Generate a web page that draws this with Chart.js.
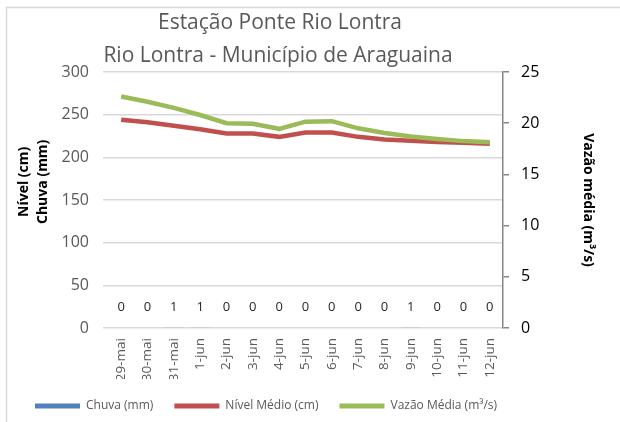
<!DOCTYPE html>
<html>
<head>
<meta charset="utf-8">
<script src="https://cdn.jsdelivr.net/npm/chart.js@4.4.0/dist/chart.umd.min.js"></script>
<style>
  html, body { margin: 0; padding: 0; background: #fff; }
  #wrap { width: 620px; height: 422px; }
</style>
</head>
<body>
<div id="wrap"><canvas id="chart" width="620" height="422"></canvas></div>
<script>
// data
var days = ["29-mai", "30-mai", "31-mai", "1-jun", "2-jun", "3-jun", "4-jun", "5-jun",
            "6-jun", "7-jun", "8-jun", "9-jun", "10-jun", "11-jun", "12-jun"];
var chuva = [0, 0, 1, 1, 0, 0, 0, 0, 0, 0, 0, 1, 0, 0, 0];
var nivel = [244, 241, 237, 233, 228, 228, 224, 229, 229, 224, 221, 219.5, 218, 217, 216];
var vazao = [22.6, 22.1, 21.5, 20.8, 20.0, 19.95, 19.45, 20.15, 20.2, 19.5, 19.05, 18.7, 18.45, 18.25, 18.15];
var titleLines = ["Estação Ponte Rio Lontra", "Rio Lontra - Município de Araguaina"];

var grey = "#595959";
var font = "'Open Sans', 'Liberation Sans', sans-serif";

// title + outer frame
var frame = {
    id: "frame",
    beforeDraw: function(chart) {
        var c = chart.ctx;
        c.save();
        c.fillStyle = "#fff";
        c.fillRect(0, 0, chart.width, chart.height);
        c.strokeStyle = "#d9d9d9";
        c.lineWidth = 1.5;
        c.beginPath();
        c.moveTo(6.5, chart.height);
        c.lineTo(6.5, 7.5);
        c.lineTo(chart.width, 7.5);
        c.stroke();
        c.restore();
    },
    afterDraw: function(chart) {
        var c = chart.ctx;
        c.save();
        c.fillStyle = grey;
        c.font = "21px " + font;
        c.textAlign = "center";
        c.textBaseline = "middle";
        c.fillText(titleLines[0], 280, 23);
        c.fillText(titleLines[1], 278, 56);
        c.restore();
    }
};

// the little 0/1 labels above the rain bars
var barLabels = {
    id: "barLabels",
    afterDatasetsDraw: function(chart) {
        var c = chart.ctx;
        var meta = chart.getDatasetMeta(0);
        c.save();
        c.fillStyle = "#262626";
        c.font = "13px " + font;
        c.textAlign = "center";
        c.textBaseline = "middle";
        meta.data.forEach(function(bar, i) {
            c.fillText(String(chuva[i]), bar.x, chart.chartArea.bottom - 21);
        });
        c.restore();
    }
};

var ctx = document.getElementById("chart").getContext("2d");

var myChart = new Chart(ctx, {
    type: "bar",
    data: {
        labels: days,
        datasets: [{
            label: "Chuva (mm)",
            data: chuva,
            backgroundColor: "#4f81bd",
            yAxisID: "y",
            order: 2
        }, {
            type: "line",
            label: "Nível Médio (cm)",
            data: nivel,
            borderColor: "#c0504d",
            backgroundColor: "#c0504d",
            borderWidth: 4.5,
            pointRadius: 0,
            tension: 0,
            yAxisID: "y",
            order: 1
        }, {
            type: "line",
            label: "Vazão Média (m³/s)",
            data: vazao,
            borderColor: "#9bbb59",
            backgroundColor: "#9bbb59",
            borderWidth: 4.5,
            pointRadius: 0,
            tension: 0,
            yAxisID: "y1",
            order: 0
        }]
    },
    options: {
        responsive: false,
        animation: false,
        layout: { padding: { top: 72, bottom: 0, left: 14, right: 0 } },
        plugins: {
            title: { display: false },
            tooltip: { enabled: false },
            legend: {
                position: "bottom",
                align: "start",
                labels: {
                    color: grey,
                    font: { family: font, size: 12 },
                    boxWidth: 45,
                    boxHeight: 5,
                    padding: 21,
                    generateLabels: function(chart) {
                        return chart.data.datasets.map(function(ds, i) {
                            return {
                                text: ds.label,
                                fillStyle: ds.backgroundColor,
                                strokeStyle: ds.backgroundColor,
                                lineWidth: 0,
                                fontColor: grey,
                                datasetIndex: i
                            };
                        });
                    }
                }
            }
        },
        scales: {
            x: {
                grid: { display: false },
                border: { display: false },
                ticks: {
                    color: grey,
                    font: { family: font, size: 13.5 },
                    minRotation: 90,
                    maxRotation: 90,
                    autoSkip: false,
                    padding: 2
                },
                afterFit: function(s) { s.height = 51; }
            },
            y: {
                position: "left",
                min: 0,
                max: 300,
                ticks: {
                    stepSize: 50,
                    color: grey,
                    font: { family: font, size: 16 },
                    padding: 14
                },
                grid: { color: "#d9d9d9", lineWidth: 1.5, tickLength: 5 },
                border: { display: false },
                title: {
                    display: true,
                    text: ["          Nível (cm)", "          Chuva (mm)"],
                    color: "#000",
                    font: { family: font, size: 14, weight: "bold", lineHeight: 1.35 },
                    padding: { top: 1, bottom: 0 }
                },
                afterFit: function(s) { s.width = 94; }
            },
            y1: {
                position: "right",
                min: 0,
                max: 25,
                ticks: {
                    stepSize: 5,
                    color: "#000",
                    font: { family: font, size: 16 },
                    padding: 12
                },
                grid: { drawOnChartArea: false, color: "#868686", tickLength: 6, lineWidth: 1.5 },
                border: { color: "#868686", width: 1.5 },
                title: {
                    display: true,
                    text: "Vazão média (m³/s)",
                    color: "#000",
                    font: { family: font, size: 14, weight: "bold" },
                    padding: { top: 24, bottom: 0 }
                },
                afterFit: function(s) { s.width = 117; }
            }
        }
    },
    plugins: [frame, barLabels]
});
</script>
</body>
</html>
